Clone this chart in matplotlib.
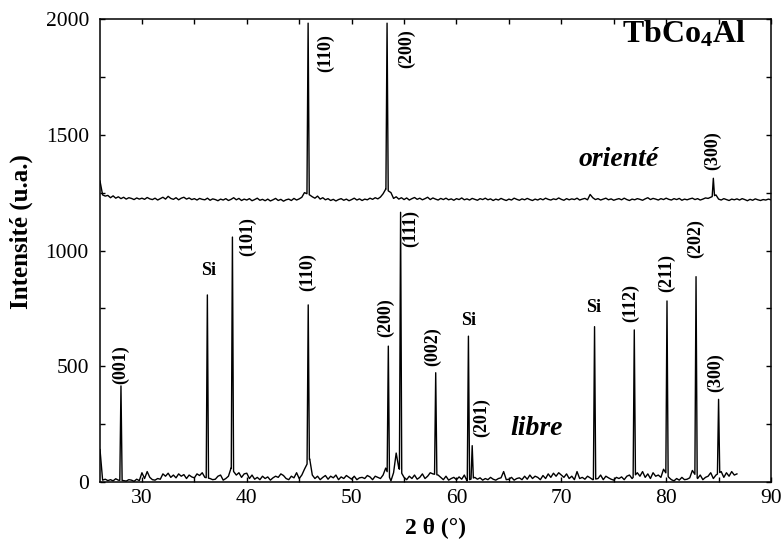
import numpy as np
import matplotlib
matplotlib.use("Agg")
import matplotlib.pyplot as plt

# ---------------- data ----------------
# 'libre' pattern: background sampled every 0.25 deg from 26.0
libre_start = 26.0
libre_bg = [
    140, 8, 12, 6,      # 26
    10, 5, 14, 8,       # 27
    10, 6, 4, 10,       # 28
    8, 3, 12, 6,        # 29
    40, 15, 45, 20,     # 30
    10, 8, 15, 12,      # 31
    35, 25, 38, 20,     # 32
    30, 18, 35, 25,     # 33
    32, 15, 30, 22,     # 34
    18, 35, 28, 40,     # 35
    20, 10, 15, 10,     # 36
    12, 25, 30, 8,      # 37
    15, 25, 60, 45,     # 38
    30, 40, 20, 35,     # 39
    38, 15, 30, 12,     # 40
    20, 10, 25, 15,     # 41
    22, 8, 18, 25,      # 42
    20, 35, 28, 15,     # 43
    10, 25, 18, 40,     # 44
    15, 30, 55, 60,     # 45
    100, 30, 15, 25,    # 46
    10, 20, 28, 12,     # 47
    25, 18, 30, 10,     # 48
    22, 15, 28, 20,     # 49
    12, 25, 10, 18,     # 50
    20, 15, 28, 22,     # 51
    10, 25, 20, 15,     # 52
    30, 60, 10, 5,      # 53
    40, 125, 60, 20,    # 54
    20, 10, 25, 15,     # 55
    30, 12, 20, 35,     # 56
    15, 25, 40, 35,     # 57
    10, 30, 20, 10,     # 58
    25, 8, 15, 20,      # 59
    10, 22, 12, 30,     # 60
    5, 15, 10, 20,      # 61
    12, 18, 8, 15,      # 62
    10, 20, 12, 8,      # 63
    15, 18, 45, 10,     # 64
    12, 20, 8, 15,      # 65
    18, 10, 25, 12,     # 66
    30, 15, 25, 20,     # 67
    10, 28, 15, 35,     # 68
    20, 38, 25, 40,     # 69
    30, 20, 35, 15,     # 70
    25, 10, 45, 15,     # 71
    20, 12, 25, 18,     # 72
    10, 10, 15, 30,     # 73
    10, 25, 18, 12,     # 74
    8, 20, 15, 22,      # 75
    10, 25, 30, 15,     # 76
    15, 40, 25, 45,     # 77
    20, 35, 15, 40,     # 78
    25, 30, 20, 55,     # 79
    10, 20, 10, 5,      # 80
    15, 8, 20, 10,      # 81
    12, 18, 50, 20,     # 82
    15, 30, 10, 20,     # 83
    25, 40, 15, 30,     # 84
    10, 45, 20, 40,     # 85
    25, 45, 30, 35,     # 86
]
libre_peak_pos = [28.0, 36.24, 38.63, 45.86, 53.5, 54.67, 58.02, 61.14, 61.5,
                  73.17, 76.96, 80.08, 82.85, 85.0]
libre_peak_h = [415, 808, 1058, 765, 587, 1165, 472, 630, 157,
                671, 657, 782, 887, 357]

# 'oriente' pattern
orient_start = 26.0
orient_bg = [
    1300, 1240, 1235, 1238,   # 26
    1228, 1236, 1226, 1232,   # 27
    1224, 1230, 1222, 1228,   # 28
    1225, 1220, 1227, 1222,   # 29
    1226, 1221, 1229, 1223,   # 30
    1220, 1226, 1218, 1224,   # 31
    1230, 1222, 1234, 1225,   # 32
    1221, 1228, 1219, 1226,   # 33
    1230, 1222, 1227, 1220,   # 34
    1224, 1218, 1225, 1221,   # 35
    1219, 1226, 1217, 1223,   # 36
    1220, 1215, 1222, 1218,   # 37
    1224, 1216, 1221, 1228,   # 38
    1219, 1225, 1216, 1222,   # 39
    1218, 1224, 1215, 1220,   # 40
    1226, 1217, 1221, 1215,   # 41
    1222, 1214, 1219, 1225,   # 42
    1216, 1221, 1213, 1219,   # 43
    1222, 1216, 1225, 1218,   # 44
    1223, 1230, 1250, 1270,   # 45
    1240, 1232, 1226, 1235,   # 46
    1222, 1228, 1219, 1224,   # 47
    1216, 1221, 1214, 1220,   # 48
    1224, 1217, 1222, 1215,   # 49
    1220, 1226, 1218, 1223,   # 50
    1216, 1222, 1219, 1226,   # 51
    1221, 1228, 1223, 1231,   # 52
    1245, 1265, 1240, 1250,   # 53
    1225, 1232, 1222, 1228,   # 54
    1220, 1227, 1218, 1224,   # 55
    1229, 1221, 1226, 1219,   # 56
    1224, 1230, 1220, 1227,   # 57
    1222, 1218, 1225, 1220,   # 58
    1226, 1219, 1223, 1217,   # 59
    1224, 1220, 1227, 1219,   # 60
    1223, 1218, 1225, 1221,   # 61
    1217, 1224, 1220, 1226,   # 62
    1219, 1223, 1216, 1222,   # 63
    1218, 1225, 1220, 1216,   # 64
    1222, 1218, 1226, 1221,   # 65
    1217, 1223, 1219, 1225,   # 66
    1220, 1216, 1222, 1218,   # 67
    1224, 1219, 1226, 1221,   # 68
    1218, 1223, 1220, 1227,   # 69
    1221, 1217, 1224, 1219,   # 70
    1223, 1220, 1226, 1218,   # 71
    1222, 1225, 1219, 1242,   # 72
    1228, 1220, 1224, 1218,   # 73
    1222, 1226, 1219, 1223,   # 74
    1217, 1221, 1224, 1219,   # 75
    1226, 1220, 1216, 1222,   # 76
    1219, 1224, 1221, 1217,   # 77
    1223, 1228, 1220, 1225,   # 78
    1222, 1218, 1224, 1220,   # 79
    1226, 1221, 1218, 1224,   # 80
    1220, 1225, 1217, 1222,   # 81
    1219, 1223, 1226, 1220,   # 82
    1224, 1218, 1222, 1227,   # 83
    1225, 1230, 1245, 1240,   # 84
    1222, 1218, 1224, 1220,   # 85
    1216, 1222, 1219, 1223,   # 86
    1218, 1224, 1220, 1215,   # 87
    1221, 1217, 1223, 1219,   # 88
    1216, 1220, 1218, 1222,   # 89
    1219,                     # 90
]
orient_peak_pos = [45.85, 53.38, 84.5]
orient_peak_h = [1982, 1982, 1312]

# reflection labels (rotated) : text, 2theta, intensity at label bottom
hkl_text = ["(001)", "(101)", "(110)", "(200)", "(111)", "(002)", "(201)",
            "(112)", "(211)", "(202)", "(300)",
            "(110)", "(200)", "(300)"]
hkl_x = [28.0, 40.05, 45.84, 53.24, 55.65, 57.77, 62.36,
         76.64, 80.0, 82.8, 84.7,
         47.5, 55.2, 84.45]
hkl_y = [425, 975, 825, 625, 1015, 500, 195,
         690, 822, 968, 390,
         1771, 1788, 1348]
si_x = [36.35, 61.2, 73.05]
si_y = [894, 678, 734]

x_ticks = [30, 40, 50, 60, 70, 80, 90]
y_ticks = [0, 500, 1000, 1500, 2000]


def build_trace(start, bg, ppos, ph, step=0.25, drop=0.12, half=0.11):
    bx = start + step * np.arange(len(bg))
    by = np.asarray(bg, dtype=float)
    keep = np.ones(len(bx), bool)
    for p in ppos:
        keep &= np.abs(bx - p) > drop
    bx, by = bx[keep], by[keep]
    xs, ys = list(bx), list(by)
    for p, h in zip(ppos, ph):
        for xx in (p - half, p + half):
            xs.append(xx)
            ys.append(np.interp(xx, bx, by))
        xs.append(p)
        ys.append(h)
    order = np.argsort(xs)
    return np.asarray(xs)[order], np.asarray(ys)[order]


plt.rcParams['font.family'] = ['Liberation Serif', 'DejaVu Serif']
plt.rcParams['mathtext.fontset'] = 'custom'
plt.rcParams['mathtext.rm'] = 'Liberation Serif:bold'
plt.rcParams['mathtext.bf'] = 'Liberation Serif:bold'
plt.rcParams['mathtext.it'] = 'Liberation Serif:bold:italic'

fig = plt.figure(figsize=(7.84, 5.40), dpi=100)
ax = fig.add_axes([100 / 784, 1 - 482 / 540, 671 / 784, 463 / 540])

lx, ly = build_trace(libre_start, libre_bg, libre_peak_pos, libre_peak_h)
ox, oy = build_trace(orient_start, orient_bg, orient_peak_pos, orient_peak_h)
ax.plot(lx, ly, color='black', lw=1.0)
ax.plot(ox, oy, color='black', lw=1.0)

ax.set_xlim(26, 90)
ax.set_ylim(0, 2000)
ax.set_xticks(x_ticks)
ax.set_yticks(y_ticks)
ax.set_xticks(np.arange(35, 90, 10), minor=True)
ax.set_yticks(np.arange(250, 2000, 500), minor=True)
ax.tick_params(which='both', direction='in', top=True, right=True,
               length=3.8, width=1.0)
ax.tick_params(axis='x', which='major', labelsize=15.5, pad=5)
ax.tick_params(axis='y', which='major', labelsize=15.5, pad=8)
for s in ax.spines.values():
    s.set_linewidth(1.1)

ax.set_xlabel("2 θ (°)", fontsize=17, fontweight='bold')
ax.xaxis.set_label_coords(0.5, -0.078)
ax.set_ylabel("Intensité (u.a.)", fontsize=18, fontweight='bold')
ax.yaxis.set_label_coords(-0.100, 0.54)

for t, x, y in zip(hkl_text, hkl_x, hkl_y):
    ax.text(x, y, t, rotation=90, ha='center', va='bottom',
            fontsize=13, fontweight='bold')
for x, y in zip(si_x, si_y):
    ax.text(x, y, "Si", ha='center', va='baseline', fontsize=13,
            fontweight='bold')

ax.text(75.5, 1365, "orienté", ha='center', va='baseline', fontsize=20,
        fontweight='bold', style='italic')
ax.text(67.6, 203, "libre", ha='center', va='baseline', fontsize=20,
        fontweight='bold', style='italic')
ax.text(87.6, 1900, r"TbCo$_{4}$Al", ha='right', va='baseline', fontsize=23,
        fontweight='bold')

fig.savefig("out.png", dpi=100)
